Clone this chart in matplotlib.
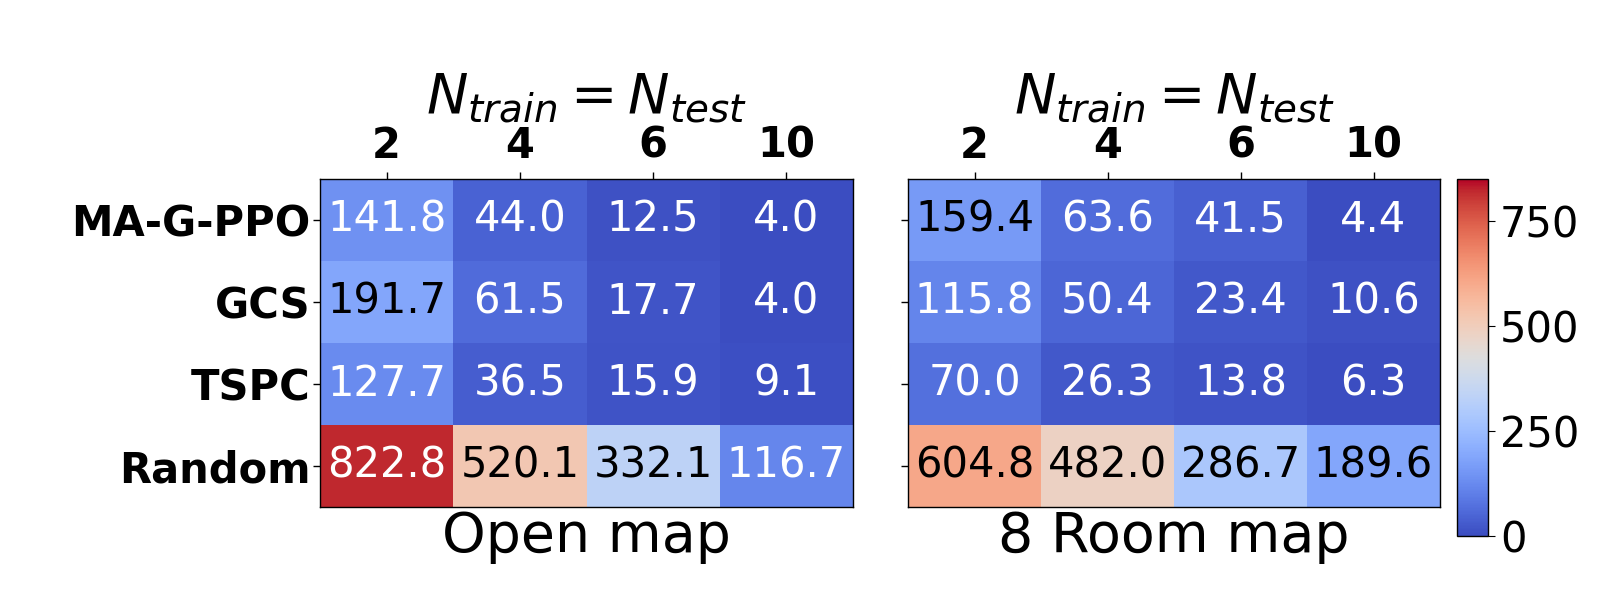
import numpy as np
import matplotlib
matplotlib.use("Agg")
import matplotlib.pyplot as plt
from matplotlib.colors import Normalize

methods = ["MA-G-PPO", "GCS", "TSPC", "Random"]
n_agents = ["2", "4", "6", "10"]
open_map = [
    [141.8, 44.0, 12.5, 4.0],
    [191.7, 61.5, 17.7, 4.0],
    [127.7, 36.5, 15.9, 9.1],
    [822.8, 520.1, 332.1, 116.7],
]
room_map = [
    [159.4, 63.6, 41.5, 4.4],
    [115.8, 50.4, 23.4, 10.6],
    [70.0, 26.3, 13.8, 6.3],
    [604.8, 482.0, 286.7, 189.6],
]
titles = ["Open map", "8 Room map"]
cbar_ticks = [0, 250, 500, 750]

W, H = 1600, 596
fig = plt.figure(figsize=(W / 100, H / 100), dpi=100)
cmap = plt.get_cmap("coolwarm")
norm = Normalize(vmin=0, vmax=850)

def box(x0, y0, x1, y1):
    return [x0 / W, 1 - y1 / H, (x1 - x0) / W, (y1 - y0) / H]

axes = [fig.add_axes(box(320, 179, 853, 507)), fig.add_axes(box(908, 179, 1440, 507))]
im = None
for k, (ax, data) in enumerate(zip(axes, [open_map, room_map])):
    arr = np.array(data)
    im = ax.imshow(arr, cmap=cmap, norm=norm, aspect="auto")
    for i in range(arr.shape[0]):
        for j in range(arr.shape[1]):
            t = norm(arr[i, j])
            col = "black" if 0.175 < t < 0.8 else "white"
            ax.text(j, i, f"{arr[i, j]:.1f}", ha="center", va="center",
                    fontsize=30, color=col)
    ax.xaxis.tick_top()
    ax.set_xticks(range(len(n_agents)))
    ax.set_xticklabels(n_agents, fontsize=30, fontweight="bold")
    ax.set_yticks(range(len(methods)))
    if k == 0:
        ax.set_yticklabels(methods, fontsize=30, fontweight="bold")
    else:
        ax.set_yticklabels([])
    ax.tick_params(axis="both", length=5, width=1, pad=4)
    ax.tick_params(axis="y", pad=2)
    ax.set_title(r"$N_{train} = N_{test}$", fontsize=40, pad=8)
    ax.set_xlabel(titles[k], fontsize=40, labelpad=2)
    for s in ax.spines.values():
        s.set_linewidth(1)

cax = fig.add_axes(box(1457, 179, 1488, 536))
cb = fig.colorbar(im, cax=cax, ticks=cbar_ticks)
cb.ax.tick_params(labelsize=30, length=5)
cb.outline.set_linewidth(1)

fig.savefig("out.png", dpi=100)
